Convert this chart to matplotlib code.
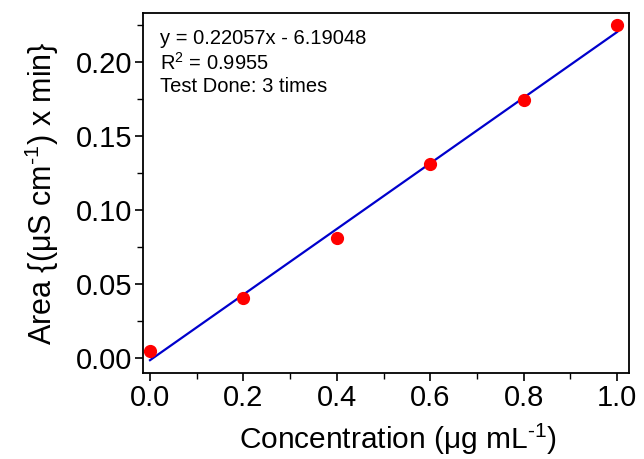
import matplotlib
matplotlib.use('Agg')
import matplotlib.pyplot as plt
import numpy as np
from matplotlib.ticker import MultipleLocator

plt.rcParams['font.family'] = ['Liberation Sans', 'DejaVu Sans']
plt.rcParams['mathtext.fontset'] = 'custom'
plt.rcParams['mathtext.rm'] = 'Liberation Sans'
plt.rcParams['mathtext.it'] = 'Liberation Sans'

# data
conc = [0.0, 0.2, 0.4, 0.6, 0.8, 1.0]
area = [0.0048, 0.0405, 0.081, 0.131, 0.174, 0.225]
xticks = [0.0, 0.2, 0.4, 0.6, 0.8, 1.0]
yticks = [0.00, 0.05, 0.10, 0.15, 0.20]

slope, icpt = np.polyfit(conc, area, 1)
xfit = np.array([conc[0], conc[-1]])

fig = plt.figure(figsize=(6.44, 4.59), dpi=100)
ax = fig.add_axes([143 / 644, 1 - 373 / 459, 486 / 644, 360 / 459])

ax.plot(xfit, slope * xfit + icpt, color='#0000cc', lw=1.6, zorder=2)
ax.plot(conc, area, 'o', color='#ff0000', ms=8.5, zorder=3)

ax.set_xlim(-0.015, 1.0257)
ax.set_ylim(-0.0101, 0.2331)
ax.set_xticks(xticks)
ax.set_yticks(yticks)
ax.set_xticklabels(['%.1f' % v for v in xticks])
ax.set_yticklabels(['%.2f' % v for v in yticks])
ax.xaxis.set_minor_locator(MultipleLocator(0.1))
ax.yaxis.set_minor_locator(MultipleLocator(0.025))
ax.tick_params(which='major', direction='out', length=6, width=1.2, labelsize=21, pad=2)
ax.tick_params(which='minor', direction='out', length=4, width=1.0)
ax.tick_params(top=False, right=False)
for s in ax.spines.values():
    s.set_linewidth(1.3)

ax.set_xlabel('Concentration ($\\mu$g mL$^{\u2010 1}$)', fontsize=21.5)
ax.xaxis.set_label_coords(0.525, -0.135)
ax.xaxis.label.set_va('top')
ax.set_ylabel('Area {($\\mu$S cm$^{\u2010 1}$) x min}', fontsize=22, labelpad=10)

ax.text(0.035, 0.955, 'y = 0.22057x - 6.19048\nR$^2$ = 0.9955\nTest Done: 3 times',
        transform=ax.transAxes, fontsize=14.5, va='top', ha='left', linespacing=1.2)

fig.savefig('out.png', dpi=100)
